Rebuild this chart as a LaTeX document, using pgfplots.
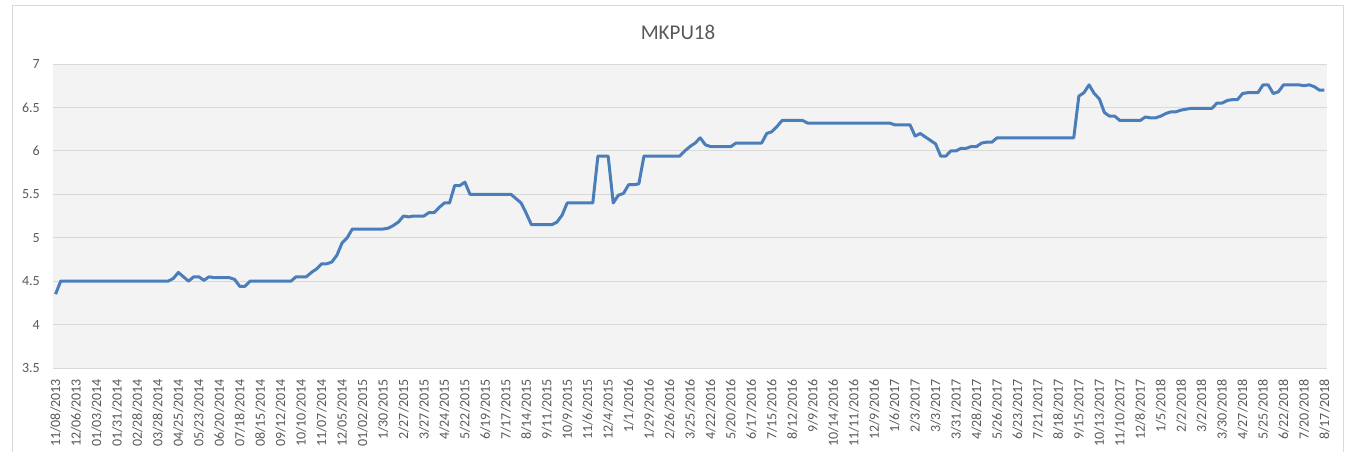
\documentclass[border=0pt]{standalone}
\usepackage{fontspec}
\setmainfont{Carlito}
\usepackage{pgfplots}
\pgfplotsset{compat=1.18}
\definecolor{linecol}{HTML}{4A7EBB}
\definecolor{gridcol}{HTML}{D9D9D9}
\definecolor{bgcol}{HTML}{F3F3F3}
\definecolor{txtcol}{HTML}{595959}
\definecolor{bordercol}{HTML}{D9D9D9}
\begin{document}
\begin{tikzpicture}
\useasboundingbox (0,0) rectangle (1348pt,451pt);
\draw[bordercol, line width=1pt] (12.5pt,-1pt) -- (12.5pt,445pt) -- (1343pt,445pt) -- (1343pt,-1pt);
\node[text=txtcol, font=\fontsize{21}{25}\selectfont] at (678pt,419pt) {MKPU18};
\begin{axis}[
  at={(53pt,83pt)}, anchor=south west,
  scale only axis, width=1274pt, height=304pt,
  xmin=-0.5, xmax=248.5, ymin=3.5, ymax=7,
  axis line style={draw=none},
  major tick length=0pt,
  axis background/.style={fill=bgcol},
  ymajorgrids, grid style={gridcol, line width=1pt},
  ytick={3.5,4,4.5,5,5.5,6,6.5,7},
  yticklabels={3.5,4,4.5,5,5.5,6,6.5,7},
  xtick={0,4,...,248},
  xticklabels={11/08/2013,12/06/2013,01/03/2014,01/31/2014,02/28/2014,03/28/2014,04/25/2014,05/23/2014,06/20/2014,07/18/2014,08/15/2014,09/12/2014,10/10/2014,11/07/2014,12/05/2014,01/02/2015,1/30/2015,2/27/2015,3/27/2015,4/24/2015,5/22/2015,6/19/2015,7/17/2015,8/14/2015,9/11/2015,10/9/2015,11/6/2015,12/4/2015,1/1/2016,1/29/2016,2/26/2016,3/25/2016,4/22/2016,5/20/2016,6/17/2016,7/15/2016,8/12/2016,9/9/2016,10/14/2016,11/11/2016,12/9/2016,1/6/2017,2/3/2017,3/3/2017,3/31/2017,4/28/2017,5/26/2017,6/23/2017,7/21/2017,8/18/2017,9/15/2017,10/13/2017,11/10/2017,12/8/2017,1/5/2018,2/2/2018,3/2/2018,3/30/2018,4/27/2018,5/25/2018,6/22/2018,7/20/2018,8/17/2018},
  /pgf/number format/assume math mode=true,
  tick label style={text=txtcol, font=\fontsize{14}{16}\selectfont},
  xticklabel style={rotate=90, anchor=east, inner sep=0pt},
  yticklabel style={anchor=east, inner sep=0pt},
  xticklabel shift=11pt,
  yticklabel shift=13pt,
]
\addplot[linecol, line width=3pt, line join=round] coordinates {
(0,4.35) (1,4.50) (22,4.50) (23,4.53) (24,4.60) (26,4.50) (27,4.55) (28,4.55)
(29,4.51) (30,4.55) (31,4.54) (34,4.54) (35,4.52) (36,4.44) (37,4.44) (38,4.50)
(46,4.50) (47,4.55) (49,4.55) (50,4.60) (51,4.64) (52,4.70) (53,4.70) (54,4.72)
(55,4.80) (56,4.94) (57,5.00) (58,5.10) (64,5.10) (65,5.11) (66,5.14) (67,5.18)
(68,5.25) (69,5.24) (70,5.25) (72,5.25) (73,5.29) (74,5.29) (75,5.35) (76,5.40)
(77,5.40) (78,5.60) (79,5.60) (80,5.64) (81,5.50) (89,5.50) (90,5.45) (91,5.40)
(92,5.28) (93,5.15) (97,5.15) (98,5.18) (99,5.26) (100,5.40) (105,5.40) (106,5.94)
(108,5.94) (109,5.40) (110,5.49) (111,5.51) (112,5.61) (113,5.61) (114,5.62) (115,5.94)
(122,5.94) (123,6.00) (124,6.05) (125,6.09) (126,6.15) (127,6.07) (128,6.05) (132,6.05)
(133,6.09) (138,6.09) (139,6.20) (140,6.22) (141,6.28) (142,6.35) (146,6.35) (147,6.32)
(163,6.32) (164,6.30) (167,6.30) (168,6.17) (169,6.20) (170,6.16) (171,6.12) (172,6.08)
(173,5.94) (174,5.94) (175,6.00) (176,6.00) (177,6.03) (178,6.03) (179,6.05) (180,6.05)
(181,6.09) (182,6.10) (183,6.10) (184,6.15) (199,6.15) (200,6.63) (201,6.67) (202,6.76)
(203,6.66) (204,6.60) (205,6.44) (206,6.40) (207,6.40) (208,6.35) (212,6.35) (213,6.39)
(214,6.38) (215,6.38) (216,6.40) (217,6.43) (218,6.45) (219,6.45) (220,6.47) (221,6.48)
(222,6.49) (226,6.49) (227,6.55) (228,6.55) (229,6.58) (230,6.59) (231,6.59) (232,6.66)
(233,6.67) (235,6.67) (236,6.76) (237,6.76) (238,6.66) (239,6.68) (240,6.76) (243,6.76)
(244,6.75) (245,6.76) (246,6.74) (247,6.70) (248,6.70)
};
\end{axis}
\end{tikzpicture}
\end{document}
